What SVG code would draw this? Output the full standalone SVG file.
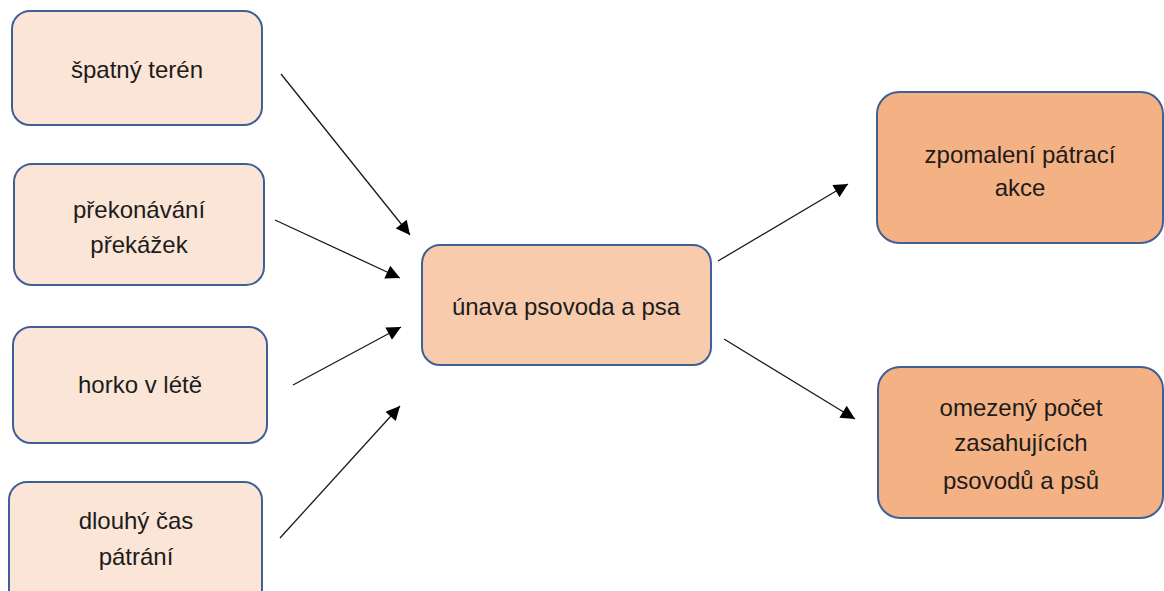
<svg xmlns="http://www.w3.org/2000/svg" width="1164" height="591" viewBox="0 0 1164 591">
<defs>
<style>
.box{stroke:#3f5f97;stroke-width:2}
.l1{fill:#fbe5d6}
.l2{fill:#f8cbad}
.l3{fill:#f4b183}
text{font-family:"Liberation Sans",Arial,sans-serif;font-size:24px;fill:#1c1c1c;text-anchor:middle}
.c{stroke:#1a1a1a;stroke-width:1.3;fill:none;marker-end:url(#ah)}
</style>
<marker id="ah" viewBox="0 0 10 10" refX="10" refY="5" markerWidth="16" markerHeight="14" markerUnits="userSpaceOnUse" orient="auto">
<path d="M0,0 L10,5 L0,10 z" fill="#000"/>
</marker>
</defs>
<rect width="1164" height="591" fill="#fff"/>
<g id="n1"><rect class="box l1" x="12" y="11" width="250" height="114" rx="18"/><text x="137" y="78">špatný terén</text></g>
<g id="n2"><rect class="box l1" x="14" y="164" width="250" height="121" rx="18"/><text x="139" y="218">překonávání</text><text x="139" y="253">překážek</text></g>
<g id="n3"><rect class="box l1" x="13" y="327" width="254" height="116" rx="18"/><text x="140" y="393">horko v létě</text></g>
<g id="n4"><rect class="box l1" x="9" y="482" width="253" height="130" rx="18"/><text x="136" y="529">dlouhý čas</text><text x="136" y="565">pátrání</text></g>
<g id="n5"><rect class="box l2" x="422" y="245" width="289" height="120" rx="18"/><text x="566" y="315">únava psovoda a psa</text></g>
<g id="n6"><rect class="box l3" x="877" y="92" width="286" height="151" rx="22"/><text x="1020" y="163">zpomalení pátrací</text><text x="1020" y="196">akce</text></g>
<g id="n7"><rect class="box l3" x="878" y="367" width="285" height="151" rx="22"/><text x="1021" y="416">omezený počet</text><text x="1021" y="451">zasahujících</text><text x="1021" y="489">psovodů a psů</text></g>
<g id="connectors">
<line class="c" x1="281" y1="74" x2="410" y2="235"/>
<line class="c" x1="275" y1="220" x2="400" y2="278"/>
<line class="c" x1="293" y1="385" x2="401" y2="327"/>
<line class="c" x1="280" y1="538" x2="400" y2="406"/>
<line class="c" x1="718" y1="261" x2="848" y2="184"/>
<line class="c" x1="724" y1="339" x2="855" y2="419"/>
</g>
</svg>
